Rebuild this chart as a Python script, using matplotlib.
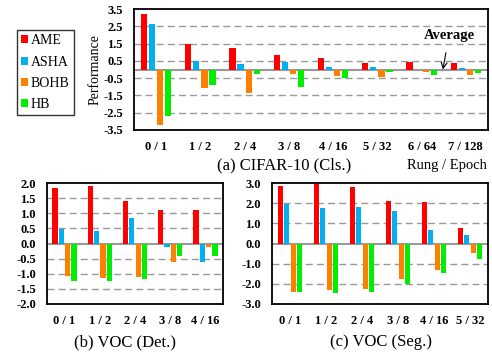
import matplotlib.pyplot as plt
from matplotlib.patches import Patch

plt.rcParams['font.family'] = 'Liberation Serif'

methods = ['AME', 'ASHA', 'BOHB', 'HB']
colors = ['#ff0000', '#00b0f0', '#ff8000', '#00ee00']

# (a) CIFAR-10 (Cls.)
cifar_rungs = ['0 / 1', '1 / 2', '2 / 4', '3 / 8', '4 / 16', '5 / 32', '6 / 64', '7 / 128']
cifar_ame = [3.21, 1.45, 1.23, 0.83, 0.64, 0.40, 0.44, 0.38]
cifar_asha = [2.66, 0.50, 0.32, 0.44, 0.17, 0.12, 0.0, 0.09]
cifar_bohb = [-3.22, -1.08, -1.37, -0.25, -0.37, -0.43, -0.17, -0.33]
cifar_hb = [-2.70, -0.90, -0.25, -1.02, -0.52, -0.16, -0.33, -0.21]
cifar_ticks = [3.5, 2.5, 1.5, 0.5, -0.5, -1.5, -2.5, -3.5]

# (b) VOC (Det.)
det_rungs = ['0 / 1', '1 / 2', '2 / 4', '3 / 8', '4 / 16']
det_ame = [1.83, 1.89, 1.39, 1.10, 1.11]
det_asha = [0.47, 0.41, 0.84, -0.12, -0.62]
det_bohb = [-1.09, -1.13, -1.11, -0.62, -0.10]
det_hb = [-1.25, -1.23, -1.17, -0.42, -0.42]
det_ticks = [2.0, 1.5, 1.0, 0.5, 0.0, -0.5, -1.0, -1.5, -2.0]

# (c) VOC (Seg.)
seg_rungs = ['0 / 1', '1 / 2', '2 / 4', '3 / 8', '4 / 16', '5 / 32']
seg_ame = [2.84, 2.94, 2.82, 2.11, 2.06, 0.78]
seg_asha = [1.97, 1.77, 1.82, 1.59, 0.66, 0.40]
seg_bohb = [-2.40, -2.29, -2.27, -1.77, -1.29, -0.45]
seg_hb = [-2.40, -2.45, -2.39, -1.99, -1.48, -0.78]
seg_ticks = [3.0, 2.0, 1.0, 0.0, -1.0, -2.0, -3.0]

W, H = 492, 352


def px_axes(fig, left, top, right, bottom):
    return fig.add_axes([left / W, 1 - bottom / H, (right - left) / W, (bottom - top) / H])


def draw_panel(ax, labels, series, ticks, width=0.14, gap=0.183):
    n = len(labels)
    for i, (vals, c) in enumerate(zip(series, colors)):
        off = (i - 1.5) * gap
        ax.bar([x + off for x in range(n)], vals, width, color=c,
               edgecolor='none', zorder=3)
    lo, hi = min(ticks), max(ticks)
    ax.set_xlim(-0.5, n - 0.5)
    ax.set_ylim(lo, hi)
    ax.set_yticks(ticks)
    ax.set_yticklabels(['{:.1f}'.format(v) for v in ticks], fontweight='bold', fontsize=9)
    for v in ticks:
        if lo < v < hi and abs(v) > 1e-9:
            ax.axhline(v, color='#999999', lw=1.0, ls=(0, (5, 3)), zorder=1)
    ax.axhline(0, color='#999999', lw=1.5, zorder=2)
    ax.set_xticks(range(n))
    ax.set_xticklabels(labels, fontweight='bold', fontsize=9)
    ax.tick_params(length=0, pad=8)
    for s in ax.spines.values():
        s.set_linewidth(1.3)
        s.set_color('black')


fig = plt.figure(figsize=(W / 100, H / 100), dpi=100)

ax_a = px_axes(fig, 134, 9, 488, 130)
draw_panel(ax_a, cifar_rungs, [cifar_ame, cifar_asha, cifar_bohb, cifar_hb], cifar_ticks)
ax_a.set_ylabel('Performance', fontsize=10, labelpad=1)
ax_a.annotate('Average', xy=(6.48, 0), xytext=(6.62, 1.98), ha='center', va='center',
              fontsize=10.5, fontweight='bold',
              arrowprops=dict(arrowstyle='->', color='black', lw=0.8, shrinkA=6, shrinkB=0))

ax_b = px_axes(fig, 47, 183, 223, 304)
draw_panel(ax_b, det_rungs, [det_ame, det_asha, det_bohb, det_hb], det_ticks,
           width=0.15, gap=0.18)

ax_c = px_axes(fig, 272, 183, 488, 304)
draw_panel(ax_c, seg_rungs, [seg_ame, seg_asha, seg_bohb, seg_hb], seg_ticks,
           width=0.15, gap=0.18)

fig.text(284 / W, 1 - 165 / H, '(a) CIFAR-10 (Cls.)', ha='center', va='center', fontsize=12)
fig.text(447 / W, 1 - 165 / H, 'Rung / Epoch', ha='center', va='center', fontsize=10.5)
fig.text(125 / W, 1 - 342 / H, '(b) VOC (Det.)', ha='center', va='center', fontsize=12)
fig.text(381 / W, 1 - 342 / H, '(c) VOC (Seg.)', ha='center', va='center', fontsize=12)

handles = [Patch(facecolor=c, edgecolor='none') for c in colors]
leg = fig.legend(handles, methods, loc='upper left', bbox_to_anchor=(17 / W, 1 - 30 / H),
                 borderaxespad=0, fontsize=10, frameon=True, fancybox=False,
                 handlelength=0.5, handleheight=0.5, handletextpad=0.2,
                 labelspacing=0.6, borderpad=0.3)
leg.get_frame().set_edgecolor('black')
leg.get_frame().set_linewidth(1.0)

fig.savefig('out.png', dpi=100)
